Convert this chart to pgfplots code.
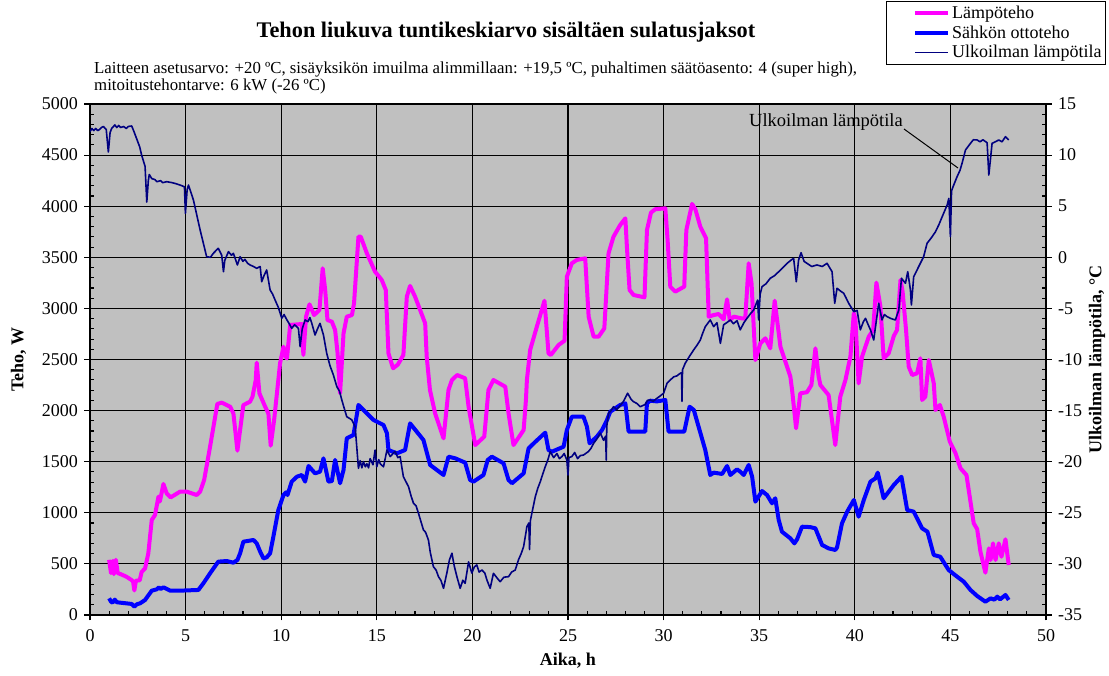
\documentclass[border=0pt]{standalone}
\usepackage{fontspec}
\setmainfont{Liberation Serif}
\usepackage{pgfplots}
\pgfplotsset{compat=1.18}
\definecolor{plotbg}{HTML}{C0C0C0}
\definecolor{lampo}{HTML}{FF00FF}
\definecolor{sahko}{HTML}{0000FF}
\definecolor{ulko}{HTML}{000080}
\definecolor{bordergray}{HTML}{808080}

\pgfplotstableread{
h W
1.0 540
1.1 410
1.2 530
1.25 400
1.35 540
1.45 410
1.6 400
1.9 375
2.15 345
2.25 330
2.32 240
2.4 335
2.6 340
2.7 420
2.88 456
3.05 603
3.23 930
3.4 978
3.58 1158
3.65 1110
3.72 1170
3.84 1282
4.01 1190
4.22 1151
4.71 1207
5.06 1207
5.58 1174
5.76 1207
5.97 1321
6.28 1647
6.66 2065
6.89 2078
7.33 2038
7.5 1973
7.71 1608
7.85 1810
8.02 2054
8.37 2087
8.5 2136
8.67 2300
8.72 2469
8.86 2169
9.16 2038
9.33 1973
9.45 1657
9.63 1908
9.85 2299
9.94 2462
10.12 2625
10.24 2527
10.3 2510
10.47 2838
11.08 2847
11.16 2544
11.3 2919
11.48 3040
11.72 2935
12.0 2985
12.17 3392
12.3 3180
12.42 2886
12.65 2870
12.82 2789
12.95 2560
13.08 2170
13.26 2756
13.43 2919
13.7 2935
13.81 3050
14.04 3702
14.16 3702
14.48 3539
14.91 3359
15.26 3278
15.47 3180
15.61 2560
15.85 2414
16.1 2450
16.39 2544
16.57 3115
16.74 3220
17.0 3115
17.53 2854
17.61 2528
17.78 2202
18.05 1973
18.49 1729
18.75 2202
18.93 2299
19.2 2348
19.62 2316
19.8 2038
20.15 1663
20.62 1745
20.84 2202
21.1 2299
21.72 2234
21.89 1973
22.15 1663
22.68 1810
22.8 2104
22.85 2299
23.02 2593
23.37 2821
23.77 3075
23.98 2560
24.1 2544
24.51 2642
24.82 2684
24.94 3310
25.2 3441
25.46 3474
25.9 3490
26.08 2919
26.34 2723
26.6 2723
26.9 2805
27.12 3539
27.38 3702
27.73 3816
28.0 3881
28.08 3604
28.22 3180
28.43 3131
29.0 3108
29.13 3767
29.34 3937
29.56 3970
30.09 3979
30.21 3669
30.35 3213
30.61 3164
31.08 3213
31.19 3767
31.49 4022
31.66 3970
31.92 3800
32.22 3686
32.36 2919
32.62 2935
32.88 2945
33.14 2893
33.32 3089
33.46 2886
33.67 2919
34.1 2902
34.27 2900
34.45 3441
34.6 3245
34.8 2495
35.06 2658
35.32 2707
35.58 2609
35.81 3075
36.11 2625
36.63 2332
36.72 2202
36.93 1827
37.15 2169
37.5 2180
37.73 2250
37.94 2609
38.11 2332
38.2 2250
38.63 2152
38.98 1663
39.24 2136
39.51 2299
39.77 2528
39.95 2952
40.03 2900
40.2 2267
40.38 2528
40.73 2723
40.96 2789
41.13 3252
41.34 3017
41.51 2512
41.77 2560
42.04 2730
42.21 2789
42.39 3278
42.5 3164
42.68 2789
42.82 2430
43.0 2348
43.26 2365
43.43 2512
43.52 2104
43.69 2136
43.87 2495
44.13 2267
44.22 2006
44.45 2055
44.65 1940
44.97 1696
45.27 1582
45.53 1435
45.84 1370
46.01 1158
46.22 897
46.4 840
46.57 620
46.83 414
47.01 652
47.1 538
47.23 701
47.36 538
47.53 701
47.67 570
47.88 741
48.05 489
}\lampotable

\pgfplotstableread{
h W
1.0 163
1.1 130
1.18 121
1.3 150
1.4 125
1.57 121
2.18 108
2.32 82
2.45 105
2.62 114
2.88 147
3.23 238
3.49 251
3.6 270
3.7 255
3.84 271
4.19 238
4.71 238
5.67 245
5.93 310
6.28 408
6.71 522
7.15 528
7.5 512
7.71 538
7.85 603
8.02 717
8.55 734
8.72 701
8.9 620
9.07 554
9.24 564
9.42 603
9.59 766
9.85 1027
10.12 1174
10.25 1200
10.33 1174
10.55 1305
10.82 1353
11.08 1370
11.25 1305
11.43 1458
11.77 1386
12.03 1402
12.21 1533
12.47 1305
12.65 1310
12.82 1517
13.08 1289
13.26 1419
13.43 1729
13.78 1761
14.04 2055
14.3 2006
14.83 1908
15.18 1875
15.35 1859
15.53 1778
15.61 1614
16.05 1582
16.48 1614
16.74 1875
17.44 1712
17.79 1468
18.49 1370
18.75 1549
19.1 1533
19.62 1491
19.88 1321
20.06 1305
20.58 1370
20.8 1517
21.02 1549
21.63 1484
21.89 1321
22.07 1289
22.68 1386
22.94 1631
23.3 1696
23.81 1784
23.98 1614
24.16 1598
24.77 1647
24.94 1810
25.2 1940
25.81 1940
25.99 1843
26.13 1680
26.51 1745
26.78 1810
27.04 1908
27.21 1989
27.73 2055
28.0 2071
28.17 1794
29.04 1794
29.13 2071
29.3 2097
29.65 2090
30.09 2104
30.26 1794
31.08 1794
31.36 2038
31.58 2006
32.18 1614
32.44 1370
32.62 1393
33.06 1380
33.32 1458
33.49 1370
33.84 1425
34.01 1402
34.19 1370
34.45 1468
34.63 1354
34.8 1109
35.15 1213
35.41 1174
35.67 1093
35.84 1142
36.02 930
36.19 815
36.63 750
36.84 701
36.98 740
37.24 864
37.67 860
37.94 848
38.29 685
38.63 652
38.98 636
39.07 660
39.33 897
39.6 1011
39.95 1125
40.2 962
40.47 1125
40.82 1305
41.08 1337
41.2 1393
41.51 1142
42.04 1272
42.44 1353
42.74 1027
43.08 1011
43.52 848
43.8 815
44.13 587
44.47 570
44.91 440
45.35 375
45.7 326
46.05 245
46.4 186
46.83 130
47.1 163
47.3 150
47.45 180
47.6 153
47.88 196
48.05 147
}\sahkotable

\pgfplotstableread{
h T
0.0 12.3
0.1 12.6
0.2 12.4
0.3 12.6
0.4 12.4
0.5 12.5
0.6 12.7
0.7 12.8
0.85 12.5
0.96 10.3
1.05 12.2
1.13 12.6
1.3 12.95
1.4 12.7
1.5 12.9
1.6 12.7
1.76 12.8
1.9 12.6
2.0 12.8
2.18 12.85
2.3 12.3
2.44 11.6
2.6 10.8
2.7 10.0
2.88 8.9
2.97 5.4
3.05 7.5
3.1 8.1
3.23 7.7
3.4 7.6
3.5 7.4
3.7 7.5
3.8 7.3
4.01 7.4
4.3 7.3
4.5 7.2
4.71 7.07
4.94 6.9
4.99 4.3
5.08 6.6
5.15 7.07
5.41 5.6
5.76 2.67
6.1 0.06
6.3 0.0
6.45 0.39
6.71 0.88
6.89 0.2
6.98 -1.41
7.05 -0.3
7.24 0.55
7.4 0.2
7.5 0.39
7.71 -0.75
7.85 0.06
8.0 -0.4
8.1 -0.2
8.25 -0.6
8.37 -0.75
8.55 -0.9
8.72 -1.08
8.9 -0.9
8.98 -2.39
9.1 -1.8
9.24 -1.24
9.42 -3.2
9.55 -3.6
9.68 -4.18
9.85 -4.9
10.03 -5.97
10.15 -5.6
10.29 -6.1
10.42 -6.5
10.55 -6.95
10.7 -6.6
10.9 -6.95
10.99 -8.75
11.1 -7.0
11.25 -6.13
11.4 -6.3
11.5 -5.9
11.6 -6.46
11.77 -7.6
11.9 -7.0
12.03 -6.46
12.21 -7.6
12.38 -9.39
12.55 -10.6
12.73 -11.52
12.91 -12.66
13.05 -13.1
13.17 -13.96
13.3 -14.8
13.43 -15.6
13.69 -15.9
13.87 -16.6
14.04 -20.65
14.13 -19.9
14.22 -20.6
14.3 -20.0
14.4 -20.5
14.48 -20.2
14.57 -20.6
14.65 -19.7
14.8 -20.3
14.91 -18.86
15.0 -20.5
15.1 -19.8
15.18 -20.2
15.35 -20.5
15.45 -19.6
15.53 -18.86
15.7 -19.5
15.85 -19.2
15.96 -19.0
16.1 -19.6
16.22 -19.5
16.39 -21.47
16.66 -22.45
16.8 -23.4
16.92 -24.07
17.05 -24.3
17.18 -25.05
17.3 -25.8
17.44 -26.68
17.55 -26.9
17.7 -27.66
17.8 -28.9
17.96 -30.27
18.1 -30.6
18.23 -31.27
18.35 -31.6
18.49 -32.39
18.66 -30.92
18.8 -29.6
18.93 -28.96
19.05 -30.2
19.19 -31.25
19.36 -32.39
19.5 -31.6
19.62 -31.9
19.8 -29.8
19.97 -30.9
20.1 -30.3
20.23 -30.1
20.35 -30.8
20.5 -30.6
20.65 -30.9
20.76 -31.58
20.93 -32.39
21.1 -30.92
21.3 -31.4
21.45 -31.74
21.65 -31.3
21.89 -31.25
22.05 -30.8
22.24 -30.6
22.41 -29.6
22.55 -29.0
22.68 -28.3
22.85 -26.36
22.95 -26.0
22.99 -28.6
23.03 -25.8
23.11 -25.05
23.29 -23.42
23.42 -22.6
23.55 -21.96
23.68 -21.2
23.81 -20.49
23.95 -19.8
24.07 -19.02
24.25 -19.6
24.42 -19.2
24.55 -19.7
24.68 -19.5
24.8 -19.2
24.94 -19.83
25.0 -21.3
25.05 -19.6
25.2 -19.5
25.35 -19.1
25.5 -19.7
25.65 -19.4
25.81 -19.35
26.07 -19.0
26.2 -18.7
26.34 -18.2
26.5 -17.8
26.69 -17.2
26.86 -17.9
26.97 -17.5
27.0 -19.83
27.03 -16.5
27.12 -15.27
27.25 -15.0
27.38 -14.62
27.55 -14.9
27.73 -14.5
27.9 -14.1
28.12 -13.3
28.3 -13.9
28.43 -14.13
28.6 -14.3
28.78 -14.62
29.04 -14.4
29.15 -14.0
29.3 -13.96
29.45 -14.1
29.65 -13.8
29.8 -13.6
30.0 -13.3
30.18 -12.33
30.35 -12.0
30.53 -11.7
30.7 -11.6
30.87 -11.35
30.94 -11.3
30.96 -14.1
30.99 -11.0
31.13 -10.37
31.35 -9.7
31.57 -9.07
31.75 -8.6
31.92 -8.09
32.05 -7.4
32.18 -6.79
32.44 -6.13
32.62 -6.79
32.79 -6.4
32.97 -8.42
33.14 -6.6
33.3 -6.4
33.49 -6.13
33.65 -6.5
33.84 -6.2
34.01 -7.1
34.2 -6.4
34.36 -5.97
34.55 -5.5
34.71 -5.16
34.92 -4.18
34.97 -6.13
35.05 -3.6
35.15 -2.87
35.35 -2.6
35.58 -2.05
35.8 -1.8
36.02 -1.41
36.25 -1.0
36.46 -0.59
36.65 -0.3
36.8 -0.1
36.94 -2.39
37.06 -0.26
37.19 0.45
37.35 -0.4
37.5 -0.59
37.75 -0.9
38.02 -0.75
38.3 -0.9
38.55 -0.59
38.81 -1.41
38.95 -4.5
39.07 -3.03
39.25 -3.3
39.42 -3.52
39.55 -4.0
39.68 -4.5
39.95 -5.32
40.12 -5.2
40.29 -7.1
40.45 -6.3
40.56 -5.97
40.7 -6.6
40.82 -7.1
40.99 -8.09
41.25 -4.5
41.42 -6.13
41.55 -5.6
41.68 -5.8
41.9 -6.0
42.12 -6.13
42.3 -5.16
42.44 -2.05
42.65 -2.54
42.77 -1.41
42.91 -3.2
42.96 -4.67
43.08 -1.9
43.34 -0.92
43.6 0.06
43.78 1.37
44.0 1.9
44.22 2.5
44.4 3.2
44.57 3.97
44.83 5.12
44.92 5.77
45.0 2.02
45.06 6.5
45.14 6.91
45.35 7.89
45.5 8.5
45.61 9.2
45.79 10.5
46.05 11.15
46.2 11.5
46.4 11.48
46.55 11.3
46.7 11.5
46.92 11.21
47.01 8.05
47.18 11.15
47.35 11.3
47.53 11.48
47.7 11.3
47.88 11.8
48.05 11.48
}\ulkotable

\begin{document}
\begin{tikzpicture}[x=1pt,y=1pt]
\path[use as bounding box] (0,0) rectangle (1109,676);
\begin{axis}[
  at={(90pt,61pt)}, anchor=south west,
  scale only axis, width=956pt, height=511pt,
  xmin=0, xmax=50, ymin=0, ymax=5000,
  xtick={0,5,...,50}, ytick={0,500,...,5000},
  minor x tick num=4, minor y tick num=4,
  axis x line*=bottom, axis y line*=left,
  axis line style={black, line width=1.3pt, -},
  axis background/.style={fill=plotbg, draw=bordergray, line width=1.5pt},
  grid=major, major grid style={black, line width=1.1pt},
  tick align=center, major tick length=11pt, minor tick length=4pt,
  tick style={black, line width=1.1pt},
  every minor x tick/.append style={yshift=2pt},
  every minor y tick/.append style={xshift=2pt},
  /pgf/number format/assume math mode=true,
  /pgf/number format/1000 sep={},
  ticklabel style={font=\fontsize{18}{20}\selectfont},
  xticklabel style={yshift=-6pt},
  yticklabel style={xshift=-3pt},
  xlabel={Aika, h}, ylabel={Teho, W},
  label style={font=\fontsize{18}{21}\bfseries},
  xlabel style={yshift=-4pt},
  ylabel style={yshift=9pt},
]
\addplot[lampo, line width=4pt, line join=round] table[x=h, y=W] {\lampotable};
\addplot[sahko, line width=4pt, line join=round] table[x=h, y=W] {\sahkotable};
\end{axis}
\begin{axis}[
  at={(90pt,61pt)}, anchor=south west,
  scale only axis, width=956pt, height=511pt,
  xmin=0, xmax=50, ymin=-35, ymax=15,
  xtick=\empty,
  ytick={-35,-30,...,15}, minor y tick num=4,
  hide x axis, axis y line*=right,
  axis line style={black, line width=1.3pt, -},
  tick align=center, major tick length=11pt, minor tick length=4pt,
  tick style={black, line width=1.1pt},
  every minor y tick/.append style={xshift=-2pt},
  /pgf/number format/assume math mode=true,
  ticklabel style={font=\fontsize{18}{20}\selectfont},
  yticklabel style={xshift=3pt},
  ylabel={Ulkoilman lämpötila, °C},
  label style={font=\fontsize{18}{21}\bfseries},
  legend style={at={(axis description cs:1.0628,1.2016)}, anchor=north east,
    draw=black, fill=white, line width=1pt,
    font=\fontsize{18}{19.5}\selectfont, inner xsep=2pt, inner ysep=3pt,
    row sep=1.5pt},
  legend cell align=left,
  legend image code/.code={\path (-25pt,0pt); \draw[#1] (0pt,0pt) -- (33pt,0pt);},
]
\addlegendimage{lampo, line width=4pt}
\addlegendentry{Lämpöteho}
\addlegendimage{sahko, line width=4pt}
\addlegendentry{Sähkön ottoteho}
\addplot[ulko, line width=1.6pt, line join=round] table[x=h, y=T] {\ulkotable};
\addlegendentry{Ulkoilman lämpötila}
\end{axis}
\node[anchor=base, font=\fontsize{22.3}{25}\bfseries] at (506,638) {Tehon liukuva tuntikeskiarvo sisältäen sulatusjaksot};
\node[anchor=base west, inner sep=0pt, font=\fontsize{16.8}{19}\selectfont] at (94,602) {Laitteen asetusarvo: +20 ºC, sisäyksikön imuilma alimmillaan: +19,5 ºC, puhaltimen säätöasento: 4 (super high),};
\node[anchor=base west, inner sep=0pt, font=\fontsize{16.8}{19}\selectfont] at (94,585) {mitoitustehontarve: 6 kW (-26 ºC)};
\node[anchor=base, inner sep=0pt, font=\fontsize{18.5}{20}\selectfont] at (826,549) {Ulkoilman lämpötila};
\draw[black, line width=1pt] (904,547) -- (958,508);
\end{tikzpicture}
\end{document}
